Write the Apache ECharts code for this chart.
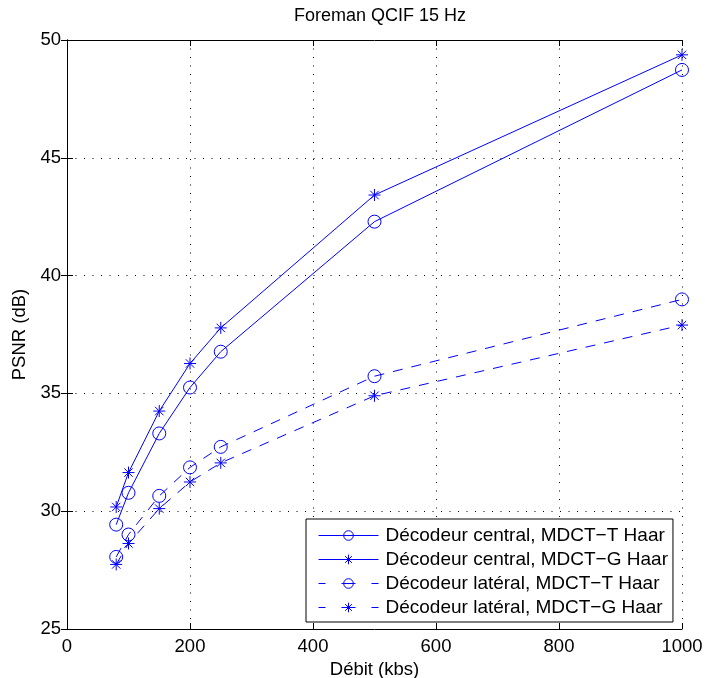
<!DOCTYPE html>
<html>
<head>
<meta charset="utf-8">
<script src="https://cdn.jsdelivr.net/npm/echarts@6/dist/echarts.min.js"></script>
<style>
  html, body { margin: 0; padding: 0; background: #fff; }
  #chart { width: 705px; height: 678px; }
</style>
</head>
<body>
<div id="chart"></div>
<script>
  const debit = [80, 100, 150, 200, 250, 500, 1000];
  const centralT = [29.43, 30.78, 33.30, 35.25, 36.77, 42.29, 48.73];
  const centralG = [30.18, 31.64, 34.25, 36.27, 37.78, 43.42, 49.37];
  const lateralT = [28.06, 29.01, 30.65, 31.86, 32.73, 35.73, 38.99];
  const lateralG = [27.74, 28.63, 30.11, 31.24, 32.05, 34.90, 37.90];

  const names = [
    'Décodeur central, MDCT\u2212T Haar',
    'Décodeur central, MDCT\u2212G Haar',
    'Décodeur latéral, MDCT\u2212T Haar',
    'Décodeur latéral, MDCT\u2212G Haar'
  ];

  const blue = '#0000ff';
  const font = '"Liberation Sans", Arial, sans-serif';
  // MATLAB style asterisk marker (+ and x overlaid)
  const star = 'path://M0,-1L0,1M-1,0L1,0M-0.7,-0.7L0.7,0.7M-0.7,0.7L0.7,-0.7';

  const pairs = ys => debit.map((x, i) => [x, ys[i]]);

  const mkSeries = (name, ys, symbol, dashed) => ({
    name: name,
    type: 'line',
    data: pairs(ys),
    symbol: symbol === 'circle' ? 'circle' : star,
    symbolSize: symbol === 'circle' ? 13 : 12,
    showAllSymbol: true,
    color: blue,
    lineStyle: { color: blue, width: 1, type: dashed ? [10, 9] : 'solid' },
    itemStyle: { color: 'rgba(0,0,0,0)', borderColor: blue, borderWidth: 1 },
    emphasis: { disabled: true },
    animation: false
  });

  // legend entries: short dash, marker, short dash for the dashed ones
  const legendItem = (name, dashed) => ({
    name: name,
    lineStyle: { color: blue, width: 1, type: dashed ? [7, 16, 14, 16] : 'solid' },
    itemStyle: { color: 'rgba(0,0,0,0)', borderColor: blue, borderWidth: 1 }
  });

  const chart = echarts.init(document.getElementById('chart'));

  const gridLine = { show: true, lineStyle: { color: '#000', width: 1, type: [1, 7.5] } };
  const tickFont = { fontFamily: font, fontSize: 18.5, color: '#000' };

  chart.setOption({
    backgroundColor: '#fff',
    animation: false,
    title: {
      text: 'Foreman QCIF 15 Hz',
      left: 375,
      textAlign: 'center',
      top: 2,
      textStyle: { fontFamily: font, fontSize: 18, fontWeight: 'normal', color: '#000' }
    },
    grid: { left: 67, right: 23, top: 40, bottom: 49, outerBoundsMode: 'none', containLabel: false },
    legend: {
      orient: 'vertical',
      left: 306,
      top: 519,
      itemWidth: 60,
      itemHeight: 12,
      itemGap: 5,
      padding: [7, 5, 5, 12],
      backgroundColor: '#fff',
      borderColor: '#000',
      borderWidth: 1,
      borderRadius: 0,
      lineStyle: { width: 1, color: blue },
      itemStyle: { borderWidth: 1, borderColor: blue, color: 'rgba(0,0,0,0)' },
      textStyle: { fontFamily: font, fontSize: 19, color: '#000', padding: [0, 0, 0, 2] },
      data: [
        legendItem(names[0], false),
        legendItem(names[1], false),
        legendItem(names[2], true),
        legendItem(names[3], true)
      ]
    },
    xAxis: [
      {
        type: 'value', min: 0, max: 1000, interval: 200,
        name: 'Débit (kbs)', nameLocation: 'middle', nameGap: 28,
        nameTextStyle: tickFont,
        axisLine: { lineStyle: { color: '#000', width: 1 } },
        axisTick: { inside: true, length: 6, lineStyle: { color: '#000' } },
        axisLabel: Object.assign({ margin: 8, formatter: v => String(v) }, tickFont),
        splitLine: gridLine
      },
      {
        type: 'value', min: 0, max: 1000, interval: 200, position: 'top',
        axisLine: { lineStyle: { color: '#000', width: 1 } },
        axisTick: { inside: true, length: 6, lineStyle: { color: '#000' } },
        axisLabel: { show: false },
        splitLine: { show: false }
      }
    ],
    yAxis: [
      {
        type: 'value', min: 25, max: 50, interval: 5,
        name: 'PSNR (dB)', nameLocation: 'middle', nameGap: 35,
        nameTextStyle: tickFont,
        axisLine: { show: true, lineStyle: { color: '#000', width: 1 } },
        axisTick: { show: true, inside: true, length: 6, lineStyle: { color: '#000' } },
        axisLabel: Object.assign({ margin: 6 }, tickFont),
        splitLine: gridLine
      },
      {
        type: 'value', min: 25, max: 50, interval: 5, position: 'right',
        axisLine: { show: true, lineStyle: { color: '#000', width: 1 } },
        axisTick: { show: true, inside: true, length: 6, lineStyle: { color: '#000' } },
        axisLabel: { show: false },
        splitLine: { show: false }
      }
    ],
    series: [
      mkSeries(names[0], centralT, 'circle', false),
      mkSeries(names[1], centralG, 'star', false),
      mkSeries(names[2], lateralT, 'circle', true),
      mkSeries(names[3], lateralG, 'star', true)
    ]
  });

  window.addEventListener('resize', () => chart.resize());
</script>
</body>
</html>
